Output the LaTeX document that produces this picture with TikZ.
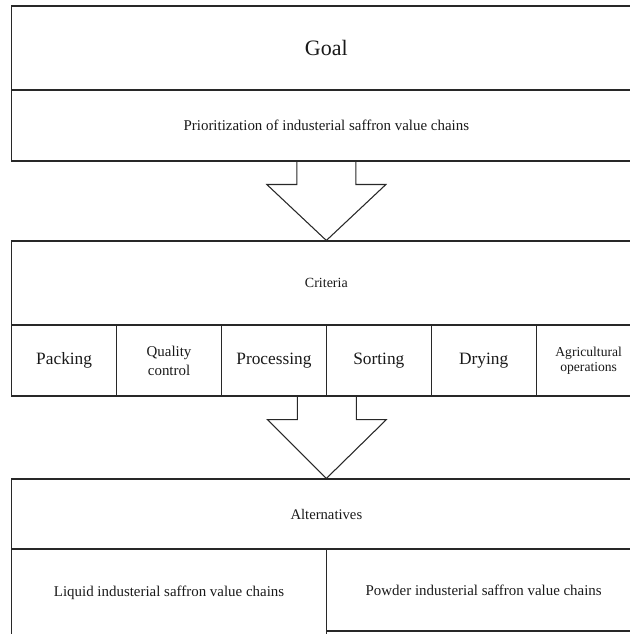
\documentclass[tikz,border=0pt]{standalone}
\usepackage{fontspec}
\setmainfont{Liberation Serif}
\usetikzlibrary{calc}

\definecolor{edgegray}{RGB}{40,40,40}
\definecolor{textgray}{RGB}{25,25,25}

\tikzset{
  cell/.style={draw=edgegray, line width=0.8pt, inner sep=1pt, align=center, text=textgray, minimum width=472pt},
  crit/.style={cell, minimum width=78.675pt, minimum height=53.25pt, font=\fontsize{13}{15}\selectfont},
  hollow/.style={draw=edgegray, line width=0.8pt, line join=miter},
}

\begin{document}
\begin{tikzpicture}[x=0.75pt,y=-0.75pt]
\useasboundingbox (0,0) rectangle (630,634);
\clip (0,0) rectangle (630,634);

% goal
\node[cell, minimum height=63pt, font=\fontsize{16.5}{18}\selectfont] (goal) at (326.35,48) {Goal};
\node[cell, minimum height=53.25pt, font=\fontsize{11.2}{13}\selectfont] (prio) at (326.35,125.5) {Prioritization of industerial saffron value chains};

% criteria
\node[cell, minimum height=63pt, font=\fontsize{10.5}{12}\selectfont] (criteria) at (326.35,283) {Criteria};
\node[crit] (packing) at (64.15,360.5) {Packing};
\node[crit, font=\fontsize{11.2}{14.3}\selectfont] (quality) at (169.05,360.5) {Quality\\control};
\node[crit] (processing) at (273.95,360.5) {Processing};
\node[crit] (sorting) at (378.85,360.5) {Sorting};
\node[crit] (drying) at (483.75,360.5) {Drying};
\node[crit, font=\fontsize{10.2}{11.3}\selectfont] (agri) at (588.65,360.5) {Agricultural\\operations};

% alternatives
\node[cell, minimum height=52.5pt, font=\fontsize{11}{13}\selectfont] (alt) at (326.35,514) {Alternatives};
\node[cell, minimum width=236pt, minimum height=65.25pt, font=\fontsize{11.2}{13}\selectfont] (liquid) at (169.05,592.5) {Liquid industerial saffron value chains};
\node[cell, minimum width=236pt, minimum height=61.5pt, font=\fontsize{11.2}{13}\selectfont] (powder) at (483.7,590) {Powder industerial saffron value chains};

% block arrows
\draw[hollow] ($(prio.south)+(-29.5,0)$) -- ++(0,23) coordinate (a1) -- ++(-30,0) -- (criteria.north) -- ($(a1)+(89,0)$) -- ++(-30,0) -- ++(0,-23);
\draw[hollow] ($(processing.south east)+(-29.5,0)$) -- ++(0,23) coordinate (a2) -- ++(-30,0) -- (alt.north) -- ($(a2)+(89,0)$) -- ++(-30,0) -- ++(0,-23);
\end{tikzpicture}
\end{document}
